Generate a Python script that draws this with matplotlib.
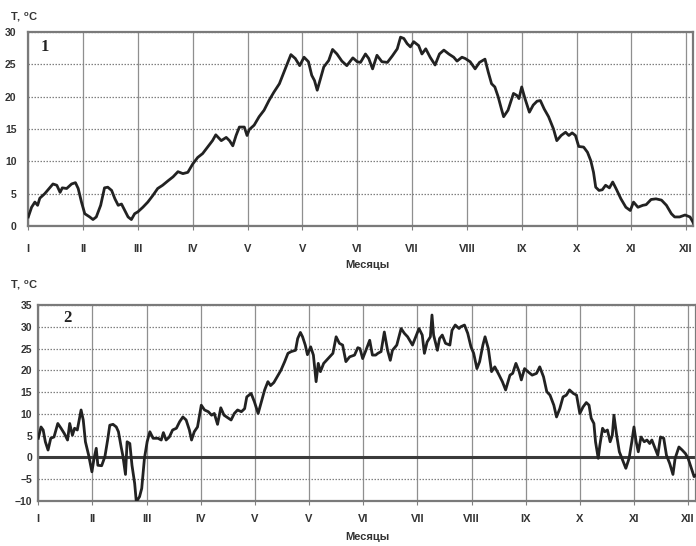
import numpy as np
import matplotlib
matplotlib.use('Agg')
import matplotlib.pyplot as plt

plt.rcParams['font.family'] = ['Liberation Sans', 'DejaVu Sans']
plt.rcParams['mathtext.fontset'] = 'custom'
plt.rcParams['mathtext.rm'] = 'Liberation Sans:bold'
plt.rcParams['mathtext.bf'] = 'Liberation Sans:bold'

# Month labels (the repeated "V" is in the original)
months = ['I', 'II', 'III', 'IV', 'V', 'V', 'VI', 'VII', 'VIII', 'IX', 'X', 'XI', 'XII']

# Chart 1: time in months, temperature
x1 = [0.00, 0.06, 0.12, 0.17, 0.21, 0.30, 0.38, 0.45, 0.52, 0.58, 0.62, 0.70, 0.79, 0.86,
      0.91, 0.97, 1.03, 1.12, 1.18, 1.24, 1.32, 1.39, 1.45, 1.52, 1.58, 1.64, 1.70, 1.76,
      1.82, 1.88, 1.94, 2.00, 2.09, 2.18, 2.27, 2.36, 2.45, 2.55, 2.64, 2.73, 2.82, 2.91,
      3.00, 3.09, 3.18, 3.27, 3.36, 3.42, 3.52, 3.61, 3.67, 3.73, 3.79, 3.85, 3.94, 3.99,
      4.03, 4.12, 4.21, 4.30, 4.39, 4.48, 4.58, 4.64, 4.71, 4.79, 4.87, 4.95, 5.03, 5.11,
      5.17, 5.22, 5.27, 5.33, 5.39, 5.48, 5.55, 5.63, 5.72, 5.81, 5.92, 6.00, 6.06, 6.15,
      6.21, 6.28, 6.36, 6.45, 6.55, 6.64, 6.73, 6.79, 6.85, 6.91, 6.97, 7.03, 7.12, 7.18,
      7.25, 7.33, 7.42, 7.50, 7.58, 7.67, 7.76, 7.82, 7.91, 7.97, 8.06, 8.15, 8.23, 8.33,
      8.39, 8.45, 8.51, 8.57, 8.63, 8.67, 8.75, 8.85, 8.91, 8.95, 9.00, 9.06, 9.14, 9.21,
      9.28, 9.34, 9.41, 9.49, 9.58, 9.64, 9.72, 9.80, 9.86, 9.92, 9.98, 10.04, 10.13, 10.20,
      10.26, 10.31, 10.35, 10.41, 10.47, 10.53, 10.60, 10.66, 10.72, 10.81, 10.90, 10.98,
      11.04, 11.12, 11.21, 11.27, 11.36, 11.45, 11.55, 11.64, 11.73, 11.79, 11.88, 11.98,
      12.07, 12.13]
t1 = [1.4, 2.9, 3.7, 3.2, 4.3, 5.0, 5.8, 6.5, 6.3, 5.2, 5.9, 5.8, 6.5, 6.7,
      5.8, 3.7, 1.9, 1.4, 1.0, 1.4, 3.2, 5.9, 6.0, 5.5, 4.2, 3.2, 3.4, 2.4,
      1.4, 1.0, 1.9, 2.2, 2.9, 3.7, 4.7, 5.8, 6.3, 7.0, 7.6, 8.4, 8.1, 8.3,
      9.6, 10.6, 11.2, 12.2, 13.2, 14.1, 13.2, 13.7, 13.2, 12.4, 14.0, 15.3, 15.3, 14.0,
      14.9, 15.6, 16.9, 17.9, 19.4, 20.7, 22.0, 23.3, 24.8, 26.5, 25.9, 24.8, 26.1, 25.4,
      23.3, 22.5, 21.0, 22.8, 24.6, 25.6, 27.3, 26.6, 25.5, 24.8, 26.0, 25.4, 25.3, 26.6,
      25.9, 24.3, 26.4, 25.4, 25.3, 26.3, 27.4, 29.2, 29.0, 28.2, 27.7, 28.5, 27.9, 26.6,
      27.4, 26.1, 24.9, 26.6, 27.2, 26.6, 26.1, 25.5, 26.1, 25.9, 25.4, 24.3, 25.3, 25.8,
      23.8, 22.0, 21.5, 20.0, 18.1, 16.9, 17.9, 20.5, 20.2, 19.7, 21.5, 19.7, 17.6, 18.7,
      19.3, 19.4, 18.1, 16.9, 15.0, 13.2, 14.0, 14.5, 14.0, 14.4, 14.0, 12.3, 12.2, 11.4,
      10.1, 8.3, 6.0, 5.5, 5.6, 6.3, 5.9, 6.8, 5.8, 4.2, 2.9, 2.4,
      3.7, 2.9, 3.2, 3.3, 4.1, 4.2, 4.0, 3.2, 1.9, 1.4, 1.4, 1.7,
      1.4, 0.5]

# Chart 2: time in months, temperature
x2 = [0.00, 0.05, 0.09, 0.13, 0.18, 0.23, 0.29, 0.36, 0.42, 0.48, 0.54, 0.58, 0.63, 0.67,
      0.72, 0.79, 0.83, 0.87, 0.93, 0.99, 1.03, 1.07, 1.10, 1.17, 1.23, 1.28, 1.32, 1.38,
      1.44, 1.48, 1.53, 1.56, 1.61, 1.64, 1.69, 1.73, 1.78, 1.81, 1.87, 1.91, 1.96, 2.01,
      2.06, 2.12, 2.21, 2.27, 2.31, 2.36, 2.42, 2.48, 2.55, 2.61, 2.67, 2.73, 2.79, 2.83,
      2.88, 2.94, 3.01, 3.07, 3.14, 3.20, 3.25, 3.31, 3.37, 3.43, 3.50, 3.56, 3.62, 3.68,
      3.75, 3.81, 3.85, 3.93, 3.99, 4.06, 4.12, 4.18, 4.24, 4.29, 4.35, 4.41, 4.48, 4.55,
      4.61, 4.67, 4.75, 4.79, 4.84, 4.88, 4.93, 4.97, 5.03, 5.08, 5.13, 5.17, 5.21, 5.27,
      5.35, 5.44, 5.50, 5.56, 5.62, 5.68, 5.75, 5.84, 5.90, 5.94, 5.99, 6.05, 6.12, 6.17,
      6.23, 6.27, 6.33, 6.39, 6.45, 6.50, 6.54, 6.62, 6.70, 6.76, 6.82, 6.91, 6.97, 7.03,
      7.09, 7.13, 7.18, 7.24, 7.27, 7.30, 7.37, 7.41, 7.46, 7.52, 7.60, 7.64, 7.70, 7.77,
      7.80, 7.87, 7.93, 7.99, 8.04, 8.10, 8.15, 8.21, 8.25, 8.31, 8.37, 8.43, 8.51, 8.57,
      8.63, 8.71, 8.76, 8.82, 8.88, 8.92, 8.98, 9.04, 9.12, 9.20, 9.26, 9.33, 9.39, 9.45,
      9.52, 9.57, 9.63, 9.69, 9.75, 9.81, 9.88, 9.94, 10.00, 10.06, 10.12, 10.17, 10.21,
      10.26, 10.29, 10.34, 10.37, 10.42, 10.46, 10.51, 10.56, 10.60, 10.63, 10.68, 10.73,
      10.79, 10.85, 10.91, 10.96, 11.00, 11.04, 11.08, 11.13, 11.19, 11.24, 11.29, 11.33,
      11.38, 11.44, 11.49, 11.55, 11.60, 11.66, 11.72, 11.76, 11.83, 11.89, 11.95, 12.00,
      12.06, 12.11, 12.14]
t2 = [4.4, 7.0, 6.3, 3.6, 1.7, 4.4, 4.7, 7.8, 6.7, 5.5, 4.0, 7.8, 5.1, 6.7,
      6.3, 10.9, 8.6, 3.6, 0.5, -3.3, -0.2, 2.1, -1.8, -1.9, 0.2, 4.0, 7.4, 7.6,
      7.0, 5.9, 2.4, 0.5, -3.9, 3.6, 3.2, -1.8, -6.0, -10.2, -9.0, -7.1, -0.2, 3.6,
      5.9, 4.4, 4.4, 4.0, 5.7, 4.0, 4.7, 6.3, 6.7, 8.2, 9.3, 8.6, 6.3, 4.0,
      5.9, 7.0, 12.0, 10.9, 10.5, 9.7, 10.1, 7.6, 11.4, 9.7, 9.1, 8.6, 10.1, 10.9,
      10.5, 11.2, 13.9, 14.7, 12.8, 10.1, 12.8, 15.5, 17.4, 16.5, 17.2, 18.5, 20.0, 22.0,
      23.9, 24.3, 24.6, 27.3, 28.7, 27.7, 25.8, 23.6, 25.4, 23.5, 17.4, 21.6, 19.7, 21.6,
      22.7, 23.9, 27.7, 26.2, 25.8, 22.0, 23.1, 23.5, 25.2, 25.0, 22.7, 24.6, 26.9, 23.5,
      23.5, 23.9, 24.3, 28.8, 24.6, 22.3, 24.6, 25.8, 29.6, 28.5, 27.7, 25.8, 27.7, 29.6,
      28.1, 23.9, 26.5, 27.7, 32.7, 28.1, 24.6, 27.3, 28.1, 26.2, 25.8, 29.2, 30.4, 29.6,
      30.0, 30.4, 28.5, 25.4, 23.9, 20.4, 22.0, 25.8, 27.7, 25.0, 19.7, 20.8, 18.9, 17.4,
      15.5, 18.9, 19.3, 21.6, 19.7, 17.8, 20.4, 19.7, 18.9, 19.3, 20.8, 18.5, 15.1, 14.3,
      12.0, 9.3, 11.2, 13.9, 14.3, 15.5, 14.7, 14.3, 10.1, 11.6, 12.6, 12.0, 9.0,
      7.8, 3.6, -0.2, 2.8, 6.7, 5.9, 6.3, 3.6, 5.1, 9.7, 5.1, 1.3,
      -0.6, -2.5, -0.2, 3.6, 7.0, 3.6, 1.3, 4.7, 3.6, 4.0, 3.2, 4.0,
      2.4, 0.5, 4.7, 4.4, 0.5, -1.4, -3.9, -0.2, 2.4, 1.7, 0.9, -0.2,
      -2.5, -4.4, -4.1]

fig = plt.figure(figsize=(6.96, 5.46), dpi=100)


def panel(rect, x, t, ylim, xmax, num, ypad, xpad):
    ax = fig.add_axes(rect)
    ax.set_xlim(0, xmax)
    ax.set_ylim(*ylim)
    ax.set_xticks(range(13))
    ax.set_xticklabels(months)
    ax.set_yticks(range(ylim[0], ylim[1] + 1, 5))
    # vertical grid solid, horizontal grid dotted
    for k in range(13):
        ax.axvline(k, color='#8f8f8f', lw=0.9, zorder=1)
    for v in range(ylim[0], ylim[1] + 1, 5):
        ax.axhline(v, color='#808080', lw=0.9, ls=(0, (1.2, 1.2)), zorder=1)
    ax.axhline(0, color='#3a3a3a', lw=2.2, zorder=2)
    ax.plot(x, t, color='#222222', lw=2.0, zorder=3)
    for s in ax.spines.values():
        s.set_color('#7a7a7a')
        s.set_linewidth(1.6)
    ax.tick_params(axis='y', length=0, pad=ypad, labelsize=7.5, labelcolor='#333333')
    ax.tick_params(axis='x', length=3, color='#808080', pad=xpad, labelsize=8,
                   labelcolor='#333333')
    for lab in ax.get_xticklabels() + ax.get_yticklabels():
        lab.set_fontweight('bold')
    ax.text(num[0], num[1], num[2], transform=ax.transAxes, family='Liberation Serif',
            fontweight='bold', fontsize=12, ha='center', va='center', color='#222222')
    return ax


ax1 = panel([28.3 / 696, 320 / 546, 665 / 696, 194 / 546], x1, t1, (0, 30), 12.13,
            (0.025, 0.923, '1'), 8.5, 10)
ax2 = panel([38.3 / 696, 45 / 546, 657.4 / 696, 196 / 546], x2, t2, (-10, 35), 12.14,
            (0.044, 0.934, '2'), 4.5, 6.5)

# axis titles
for y in (1 - 17 / 546, 1 - 285 / 546):
    fig.text(10 / 696, y, r'T, $^{\mathrm{o}}$C', fontsize=8, fontweight='bold',
             color='#333333', ha='left', va='center')
for y in (1 - 265 / 546, 1 - 537 / 546):
    fig.text(367 / 696, y, 'Месяцы', fontsize=8, fontweight='bold', color='#333333',
             ha='center', va='center')

plt.savefig('out.png', dpi=100)
